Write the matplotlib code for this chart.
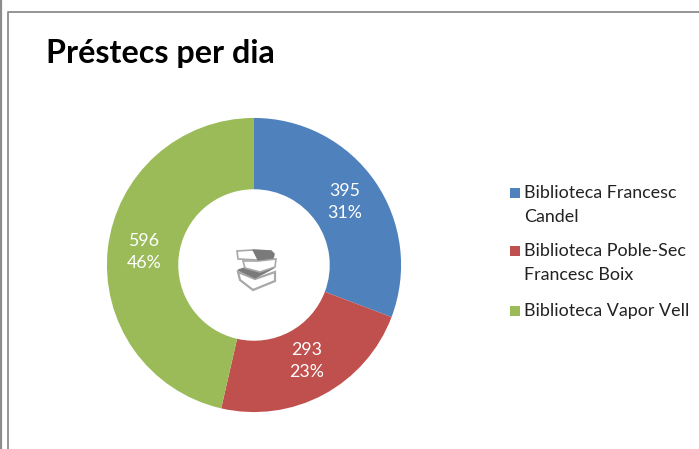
import matplotlib
matplotlib.use('Agg')
import matplotlib.pyplot as plt
from matplotlib.patches import Polygon

plt.rcParams['font.family'] = ['Lato', 'DejaVu Sans']

W, H = 699, 449

libraries = ['Biblioteca Francesc\nCandel', 'Biblioteca Poble-Sec\nFrancesc Boix', 'Biblioteca Vapor Vell']
loans = [395, 293, 596]
percents = ['31%', '23%', '46%']
colors = ['#4F81BD', '#C0504D', '#9BBB59']

fig = plt.figure(figsize=(W / 100, H / 100), dpi=100)

# donut
cx, cy, r = 254, 265, 147
ax = fig.add_axes([(cx - r - 3) / W, 1 - (cy + r + 3) / H, (2 * r + 6) / W, (2 * r + 6) / H])
wedges, _ = ax.pie(loans, colors=colors, startangle=90, counterclock=False, radius=1,
                   wedgeprops=dict(width=0.485, edgecolor='none'))
ax.set_xlim(-1.02, 1.02)
ax.set_ylim(-1.02, 1.02)

# overlay in pixel coords for frame, title, labels, legend and icon
top = fig.add_axes([0, 0, 1, 1], zorder=5)
top.set_xlim(0, W)
top.set_ylim(H, 0)
top.axis('off')

top.plot([8, 8, W], [H, 12, 12], color='#8c8c8c', lw=1.3)
top.plot([1, 1], [0, H], color='#8c8c8c', lw=1.6)
top.plot([0, 1], [11, 11], color='#8c8c8c', lw=1.3)

top.text(46, 53, 'Préstecs per dia', fontsize=23.2, fontweight='bold', color='black',
         va='center', ha='left')

label_pos = [(345, 202), (307, 361), (144, 252)]
for (x, y), n, p in zip(label_pos, loans, percents):
    top.text(x, y, f'{n}\n{p}', color='white', fontsize=12.8, ha='center', va='center',
             linespacing=1.5)

# legend
legend_y = [193, 251, 311]
text_y = [205, 263, 311]
for yb, yt, c, name in zip(legend_y, text_y, colors, libraries):
    top.add_patch(plt.Rectangle((510, yb - 5), 10, 10, color=c, lw=0))
    top.text(524, yt, name, fontsize=12.85, color='#222222', ha='left', va='center', linespacing=1.6)

# books icon
grey = '#7a7a7a'
light = '#a8a8a8'
top.add_patch(Polygon([[238, 272], [255, 279], [275, 272], [275, 281], [253, 290], [240, 280]],
                      fc='white', ec=light, lw=1.6))
top.add_patch(Polygon([[238, 270], [247, 267], [259, 272], [274, 268], [255, 278]], fc=grey, ec=grey, lw=0.8))
top.add_patch(Polygon([[243, 261], [258, 261], [276, 259], [275, 267], [260, 272], [245, 268]],
                      fc='white', ec=light, lw=1.2))
top.add_patch(Polygon([[237, 251], [253, 250], [271, 251], [274, 254], [273, 259], [258, 260], [238, 259]],
                      fc='white', ec=light, lw=1.2))
top.add_patch(Polygon([[253, 250], [271, 251], [274, 254], [273, 258], [258, 260]], fc=grey, ec=grey, lw=0.8))

fig.savefig('out.png', dpi=100)
